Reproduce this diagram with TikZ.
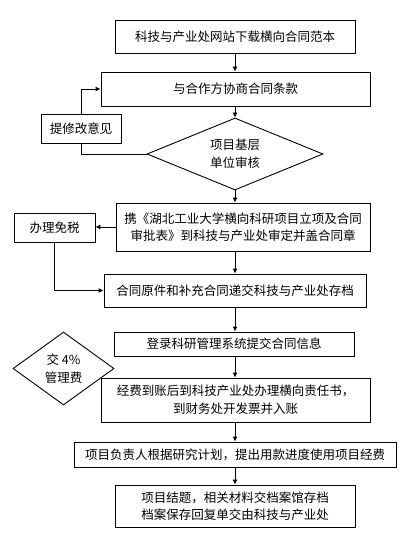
\documentclass[tikz,border=0pt]{standalone}
\usepackage{fontspec}
\setmainfont{Noto Sans CJK SC}
\usepackage{tikz}
\usetikzlibrary{arrows.meta,calc,positioning,shapes.geometric}

\begin{document}
\begin{tikzpicture}[x=1pt,y=-1pt,
    flowbox/.style={draw,line width=0.9pt,rectangle,align=center,inner sep=0pt,
      font=\fontsize{12.5}{17.5}\selectfont},
    checkdia/.style={draw,line width=0.9pt,diamond,align=center,inner sep=0pt,
      font=\fontsize{12.5}{17.5}\selectfont},
    flowarr/.style={line width=0.9pt,-{Latex[length=5pt,width=5pt]}},
    flowline/.style={line width=0.9pt}]
  \useasboundingbox (0,0) rectangle (408,540);
  % main flow
  \node[flowbox,minimum width=240,minimum height=33] (down) at (235,36.5) {科技与产业处网站下载横向合同范本};
  \node[flowbox,minimum width=269,minimum height=34] (talk) at (235.5,89) {与合作方协商合同条款};
  \node[checkdia,minimum width=176,minimum height=72,aspect=2.44] (check) at (235,154) {项目基层\\单位审核};
  \node[flowbox,minimum width=80,minimum height=29] (fix) at (81,128.5) {提修改意见};
  \node[flowbox,minimum width=254,minimum height=48] (stamp) at (243,227) {携《湖北工业大学横向科研项目立项及合同\\审批表》到科技与产业处审定并盖合同章};
  \node[flowbox,minimum width=81,minimum height=29] (tax) at (54.5,227.5) {办理免税};
  \node[flowbox,minimum width=262,minimum height=33] (file) at (235,290.5) {合同原件和补充合同递交科技与产业处存档};
  \node[flowbox,minimum width=240,minimum height=24] (login) at (234,344) {登录科研管理系统提交合同信息};
  \node[checkdia,minimum width=101,minimum height=73,aspect=1.38] (fee) at (63.5,368.5) {交 4\%\\管理费};
  \node[flowbox,minimum width=269,minimum height=44] (fund) at (235.5,400) {经费到账后到科技产业处办理横向责任书，\\到财务处开发票并入账};
  \node[flowbox,minimum width=322,minimum height=25] (use) at (235,454.5) {项目负责人根据研究计划，提出用款进度使用项目经费};
  \node[flowbox,minimum width=240,minimum height=42] (close) at (235,506) {项目结题，相关材料交档案馆存档\\档案保存回复单交由科技与产业处};

  \draw[flowarr] (down.south) -- (talk.north -| down.south);
  \draw[flowarr] (talk.south -| check.north) -- (check.north);
  \draw[flowarr] (check.south) -- (stamp.north -| check.south);
  \draw[flowarr] (stamp.south -| check.south) -- (file.north -| check.south);
  \draw[flowarr] (file.south -| check.south) -- (login.north -| check.south);
  \draw[flowarr] (login.south -| check.south) -- (fund.north -| check.south);
  \draw[flowarr] (fund.south -| check.south) -- (use.north -| check.south);
  \draw[flowarr] (use.south -| check.south) -- (close.north -| check.south);
  % side branches
  \draw[flowline] (check.west) -| (fix.south);
  \draw[flowarr] (fix.north) |- (talk.west);
  \draw[flowarr] (stamp.west) -- (stamp.west -| tax.east);
  \draw[flowarr] (tax.south) |- (file.west);
\end{tikzpicture}
\end{document}
